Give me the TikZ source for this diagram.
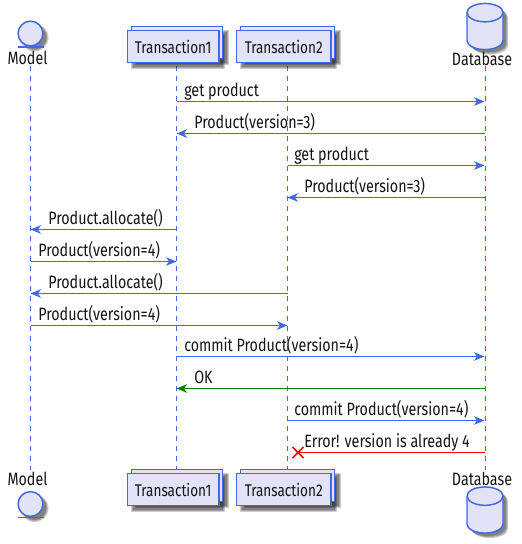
\documentclass[tikz,border=0pt]{standalone}
\usepackage{fontspec}
\setmainfont[FakeStretch=0.8]{Fira Sans}
\usetikzlibrary{arrows.meta}
\definecolor{lineblue}{HTML}{4169E1}
\definecolor{fillblue}{HTML}{E2E2F8}
\tikzset{
  x=0.75pt,y=-0.75pt,
  every node/.style={font=\fontsize{13.4pt}{15pt}\selectfont,text=black!92,inner sep=0pt},
  part/.style={draw=lineblue,fill=fillblue,line width=1.1pt},
  lifeline/.style={draw=lineblue,line width=0.75pt,dash pattern=on 3.75pt off 3.75pt},
  shade1/.style={fill=black,opacity=0.2,draw=none},
  msg/.style={draw=lineblue,line width=0.75pt,-{Stealth[length=8pt,width=6.5pt,inset=2.5pt]}},
  okmsg/.style={draw=green!50!black,line width=0.9pt,-{Stealth[length=8pt,width=6.5pt,inset=2.5pt]}},
  errmsg/.style={draw=red,line width=0.9pt},
  lab/.style={anchor=base west},
  title/.style={anchor=center},
  stacktitle/.style={anchor=center,font=\fontsize{12.7pt}{15pt}\selectfont}
}
\newcommand{\softrect}[4]{%
  \fill[shade1] (#1+3,#2+3) rectangle (#3+6,#4+6);
  \fill[shade1] (#1+4,#2+4) rectangle (#3+5,#4+5);
  \fill[shade1] (#1+5,#2+5) rectangle (#3+4,#4+4);
}
\newcommand{\softcirc}[3]{%
  \fill[shade1] (#1+4,#2+4) circle[radius=#3*0.75pt+1.5pt];
  \fill[shade1] (#1+4,#2+4) circle[radius=#3*0.75pt+0.7pt];
  \fill[shade1] (#1+4,#2+4) circle[radius=#3*0.75pt];
}
\newcommand{\stack}[6]{% x0 y0 x1 y1 name text
  \softrect{#1+4}{#2-4}{#3+4}{#4-4}
  \softrect{#1}{#2}{#3}{#4}
  \path[part] (#1+4,#2-4) rectangle (#3+3.5,#4-4);
  \path[part] (#1,#2) rectangle (#3,#4);
  \node[stacktitle] (#5) at ({(#1+#3)/2},{(#2+#4)/2}) {#6};
}
\newcommand{\entity}[2]{% x y
  \softcirc{#1}{#2}{12}
  \path[part] (#1,#2) circle[radius=9.3pt];
  \draw[lineblue,line width=1.1pt] (#1-13,#2+13.5) -- (#1+13,#2+13.5);
}
\newcommand{\cyl}[2]{% x ytop
  \begin{scope}[shift={(#1,#2)}]
    \foreach \d in {3,4,5}{
    \fill[shade1] (-18+\d,9+\d) -- (-18+\d,37+\d) arc[x radius=13.5pt,y radius=6.8pt,start angle=180,end angle=360] -- (18+\d,9+\d) arc[x radius=13.5pt,y radius=6.8pt,start angle=0,end angle=180] -- cycle;}
    \path[part] (-18,9) -- (-18,37) arc[x radius=13.5pt,y radius=6.8pt,start angle=180,end angle=360] -- (18,9) arc[x radius=13.5pt,y radius=6.8pt,start angle=0,end angle=180] -- cycle;
    \draw[lineblue,line width=1.1pt] (-18,9) arc[x radius=13.5pt,y radius=7pt,start angle=180,end angle=360];
  \end{scope}
}
\begin{document}
\begin{tikzpicture}
\useasboundingbox (0,0) rectangle (522,544);
% lifelines
\coordinate (mt) at (30.5,66); \coordinate (mb) at (30.5,470);
\coordinate (at) at (176.5,66); \coordinate (ab) at (176.5,470);
\coordinate (bt) at (287.5,66); \coordinate (bb) at (287.5,470);
\coordinate (dt) at (485.5,66); \coordinate (db) at (485.5,470);
\draw[lifeline] (mt) -- (mb);
\draw[lifeline] (at) -- (ab);
\draw[lifeline] (bt) -- (bb);
\draw[lifeline] (dt) -- (db);
% top participants
\entity{30.5}{33.5}
\node[title] (modeltop) at (27.5,58) {Model};
\stack{127.5}{30.5}{219}{62.5}{t1top}{Transaction1}
\stack{236.5}{30.5}{331}{62.5}{t2top}{Transaction2}
\cyl{485}{3.5}
\node[title] (dbtop) at (482,58.5) {Database};
% bottom participants
\node[title] (modelbot) at (27.5,479) {Model};
\entity{30.5}{504}
\stack{127.5}{473.5}{219}{505.5}{t1bot}{Transaction1}
\stack{236.5}{473.5}{331}{505.5}{t2bot}{Transaction2}
\cyl{485}{487}
\node[title] (dbbot) at (482,479) {Database};
% message anchors
\foreach \n/\y in {1/101.5,2/133.5,3/165.5,4/197.5,5/229.5,6/261.5,7/293.5,8/325.5,9/356.5,10/388.5,11/420.5,12/452.5}{
  \coordinate (m\n) at (30.5,\y);
  \coordinate (a\n) at (176.5,\y);
  \coordinate (b\n) at (287.5,\y);
  \coordinate (d\n) at (484.5,\y);
}
\draw[msg] (a1) -- (d1);
\draw[msg] (d2) -- (a2);
\draw[msg] (b3) -- (d3);
\draw[msg] (d4) -- (b4);
\draw[msg] (a5) -- (m5);
\draw[msg] (m6) -- (a6);
\draw[msg] (b7) -- (m7);
\draw[msg] (m8) -- (b8);
\draw[msg] (a9) -- (d9);
\draw[okmsg] (d10) -- (a10);
\draw[msg] (b11) -- (d11);
\coordinate (xc) at (298,452.5);
\draw[errmsg] (d12) -- (xc);
\draw[red,line width=1.2pt] (292.5,447) -- (303.5,458) (292.5,458) -- (303.5,447);
% labels
\node[lab] (l1) at (184,96) {get product};
\node[lab] (l2) at (194,128) {Product(version=3)};
\node[lab] (l3) at (294,160) {get product};
\node[lab] (l4) at (304,192) {Product(version=3)};
\node[lab] (l5) at (48,224) {Product.allocate()};
\node[lab] (l6) at (38,256) {Product(version=4)};
\node[lab] (l7) at (48,288) {Product.allocate()};
\node[lab] (l8) at (38,320) {Product(version=4)};
\node[lab] (l9) at (184,351) {commit Product(version=4)};
\node[lab] (l10) at (194,383) {OK};
\node[lab] (l11) at (294,415) {commit Product(version=4)};
\node[lab] (l12) at (304,447) {Error! version is already 4};
\end{tikzpicture}
\end{document}
